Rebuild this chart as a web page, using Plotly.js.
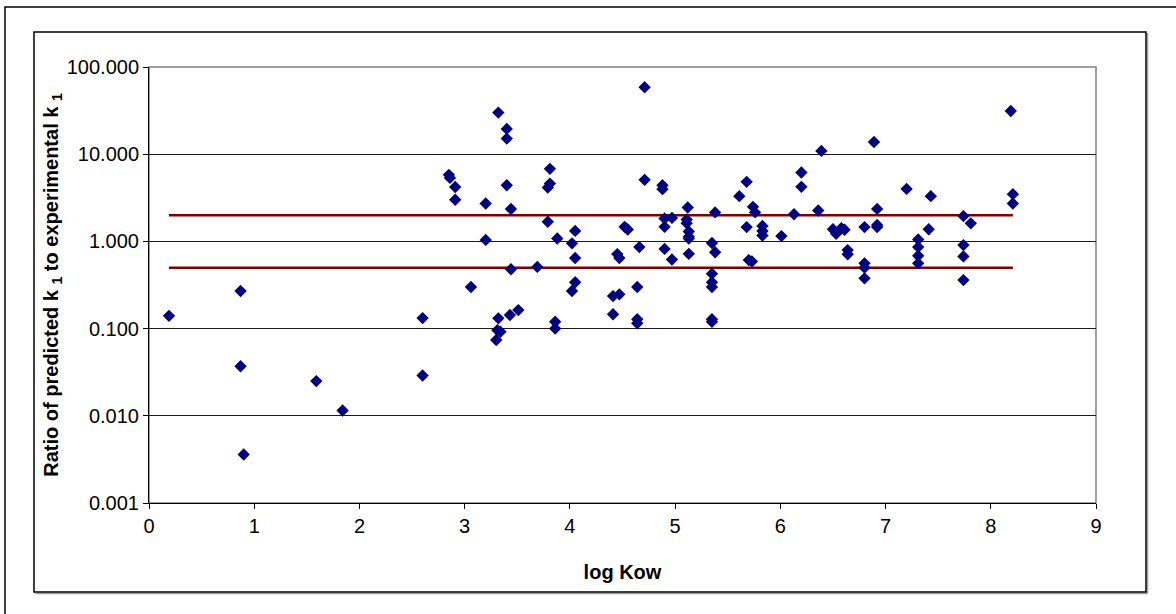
<!DOCTYPE html>
<html>
<head>
<meta charset="utf-8">
<script src="https://cdn.plot.ly/plotly-3.0.1.min.js"></script>
<style>html,body{margin:0;padding:0;background:#fff;}#chart{width:1176px;height:614px;}</style>
</head>
<body>
<div id="chart"></div>
<script>
// log Kow values
const logKow = [0.19,0.87,0.87,0.90,1.59,1.84,2.60,2.60,2.85,2.86,2.91,2.91,3.06,3.20,3.20,3.32,3.40,3.40,3.40,3.44,3.44,3.32,3.31,3.34,3.30,3.43,3.51,3.69,3.79,3.81,3.81,3.79,3.88,3.86,3.86,4.02,4.05,4.05,4.05,4.02,4.41,4.47,4.41,4.45,4.47,4.52,4.55,4.66,4.64,4.64,4.64,4.71,4.71,4.88,4.88,4.90,4.90,4.97,4.90,4.97,5.12,5.11,5.11,5.13,5.13,5.13,5.13,5.38,5.35,5.38,5.35,5.35,5.35,5.35,5.35,5.61,5.68,5.68,5.74,5.76,5.70,5.73,5.83,5.83,5.83,6.01,6.13,6.20,6.20,6.39,6.36,6.50,6.53,6.58,6.61,6.64,6.64,6.80,6.80,6.80,6.80,6.89,6.92,6.92,6.92,7.20,7.31,7.31,7.31,7.31,7.41,7.43,7.74,7.81,7.74,7.74,7.74,8.19,8.21,8.21];
// ratio of predicted k1 to experimental k1
const ratio = [0.14,0.27,0.037,0.0036,0.025,0.0115,0.132,0.029,5.8,5.35,4.2,3.0,0.30,2.72,1.04,30,19.5,15.1,4.4,2.35,0.48,0.131,0.096,0.092,0.074,0.143,0.163,0.51,1.68,6.8,4.6,4.15,1.08,0.12,0.10,0.95,1.32,0.645,0.34,0.27,0.236,0.247,0.146,0.715,0.644,1.47,1.37,0.86,0.30,0.128,0.115,58.5,5.08,4.41,3.97,1.83,1.47,1.86,0.82,0.62,2.45,1.78,1.62,1.30,1.13,1.08,0.72,2.15,0.96,0.75,0.425,0.34,0.30,0.128,0.12,3.3,4.82,1.46,2.49,2.15,0.61,0.59,1.5,1.32,1.17,1.15,2.05,6.17,4.22,10.9,2.26,1.38,1.22,1.42,1.36,0.795,0.71,1.46,0.56,0.50,0.377,13.8,2.36,1.54,1.46,4.0,1.05,0.86,0.684,0.56,1.38,3.3,1.95,1.61,0.907,0.673,0.36,31.3,3.48,2.72];
// factor-of-two bounds
const boundX = [0.19, 8.21];
const upperY = [2, 2];
const lowerY = [0.5, 0.5];
// axis ticks
const yTickVals = [0.001, 0.01, 0.1, 1, 10, 100];
const yTickText = ['0.001', '0.010', '0.100', '1.000', '10.000', '100.000'];

const FONT = 'Arial, "Liberation Sans", sans-serif';

const traces = [
  {x: boundX, y: upperY, type: 'scatter', mode: 'lines', line: {color: '#800000', width: 2.5}, hoverinfo: 'skip'},
  {x: boundX, y: lowerY, type: 'scatter', mode: 'lines', line: {color: '#800000', width: 2.5}, hoverinfo: 'skip'},
  {x: logKow, y: ratio, type: 'scatter', mode: 'markers',
   marker: {symbol: 'diamond', size: 9.5, color: '#000080', line: {width: 0}}}
];

const layout = {
  width: 1176, height: 614,
  margin: {l: 149, r: 80, t: 67, b: 111, pad: 0},
  paper_bgcolor: '#ffffff', plot_bgcolor: '#ffffff',
  showlegend: false,
  font: {family: FONT, size: 20, color: '#000'},
  xaxis: {
    range: [0, 9], dtick: 1, tick0: 0,
    ticks: 'outside', ticklen: 5, tickcolor: '#000', tickwidth: 1,
    showline: true, linecolor: '#000', linewidth: 1,
    showgrid: false, zeroline: false,
    tickfont: {family: FONT, size: 20, color: '#000'},
    title: {text: '<b>log Kow</b>', font: {family: FONT, size: 20, color: '#000'}, standoff: 28}
  },
  yaxis: {
    type: 'log', range: [-3, 2],
    tickvals: yTickVals, ticktext: yTickText,
    ticks: 'outside', ticklen: 5, tickcolor: '#000', tickwidth: 1,
    showline: true, linecolor: '#000', linewidth: 1,
    showgrid: true, gridcolor: '#1a1a1a', gridwidth: 1,
    zeroline: false,
    tickfont: {family: FONT, size: 20, color: '#000'},
    title: {text: '<b>Ratio of predicted k <sub>1</sub> to experimental k <sub>1</sub></b>', font: {family: FONT, size: 20, color: '#000'}, standoff: 2}
  },
  shapes: [
    {type: 'rect', xref: 'paper', yref: 'paper', x0: 0, x1: 1, y0: 0, y1: 1, line: {color: '#808080', width: 1.5}, layer: 'below'},
    {type: 'rect', xref: 'paper', yref: 'paper', x0: -0.15206, x1: 1.2, y0: -0.4, y1: 1.13761, line: {color: '#000', width: 1.5}},
    {type: 'line', xref: 'paper', yref: 'paper', x0: 1.0544, x1: 1.0544, y0: -0.2076, y1: 1.0780, line: {color: '#a0a0a0', width: 1.5}},
    {type: 'line', xref: 'paper', yref: 'paper', x0: -0.1199, x1: 1.0544, y0: -0.2076, y1: -0.2076, line: {color: '#a0a0a0', width: 1.5}},
    {type: 'rect', xref: 'paper', yref: 'paper', x0: -0.12144, x1: 1.05280, y0: -0.20413, y1: 1.08028, line: {color: '#000', width: 1.5}}
  ]
};

Plotly.newPlot('chart', traces, layout, {displayModeBar: false, staticPlot: true});
</script>
</body>
</html>
